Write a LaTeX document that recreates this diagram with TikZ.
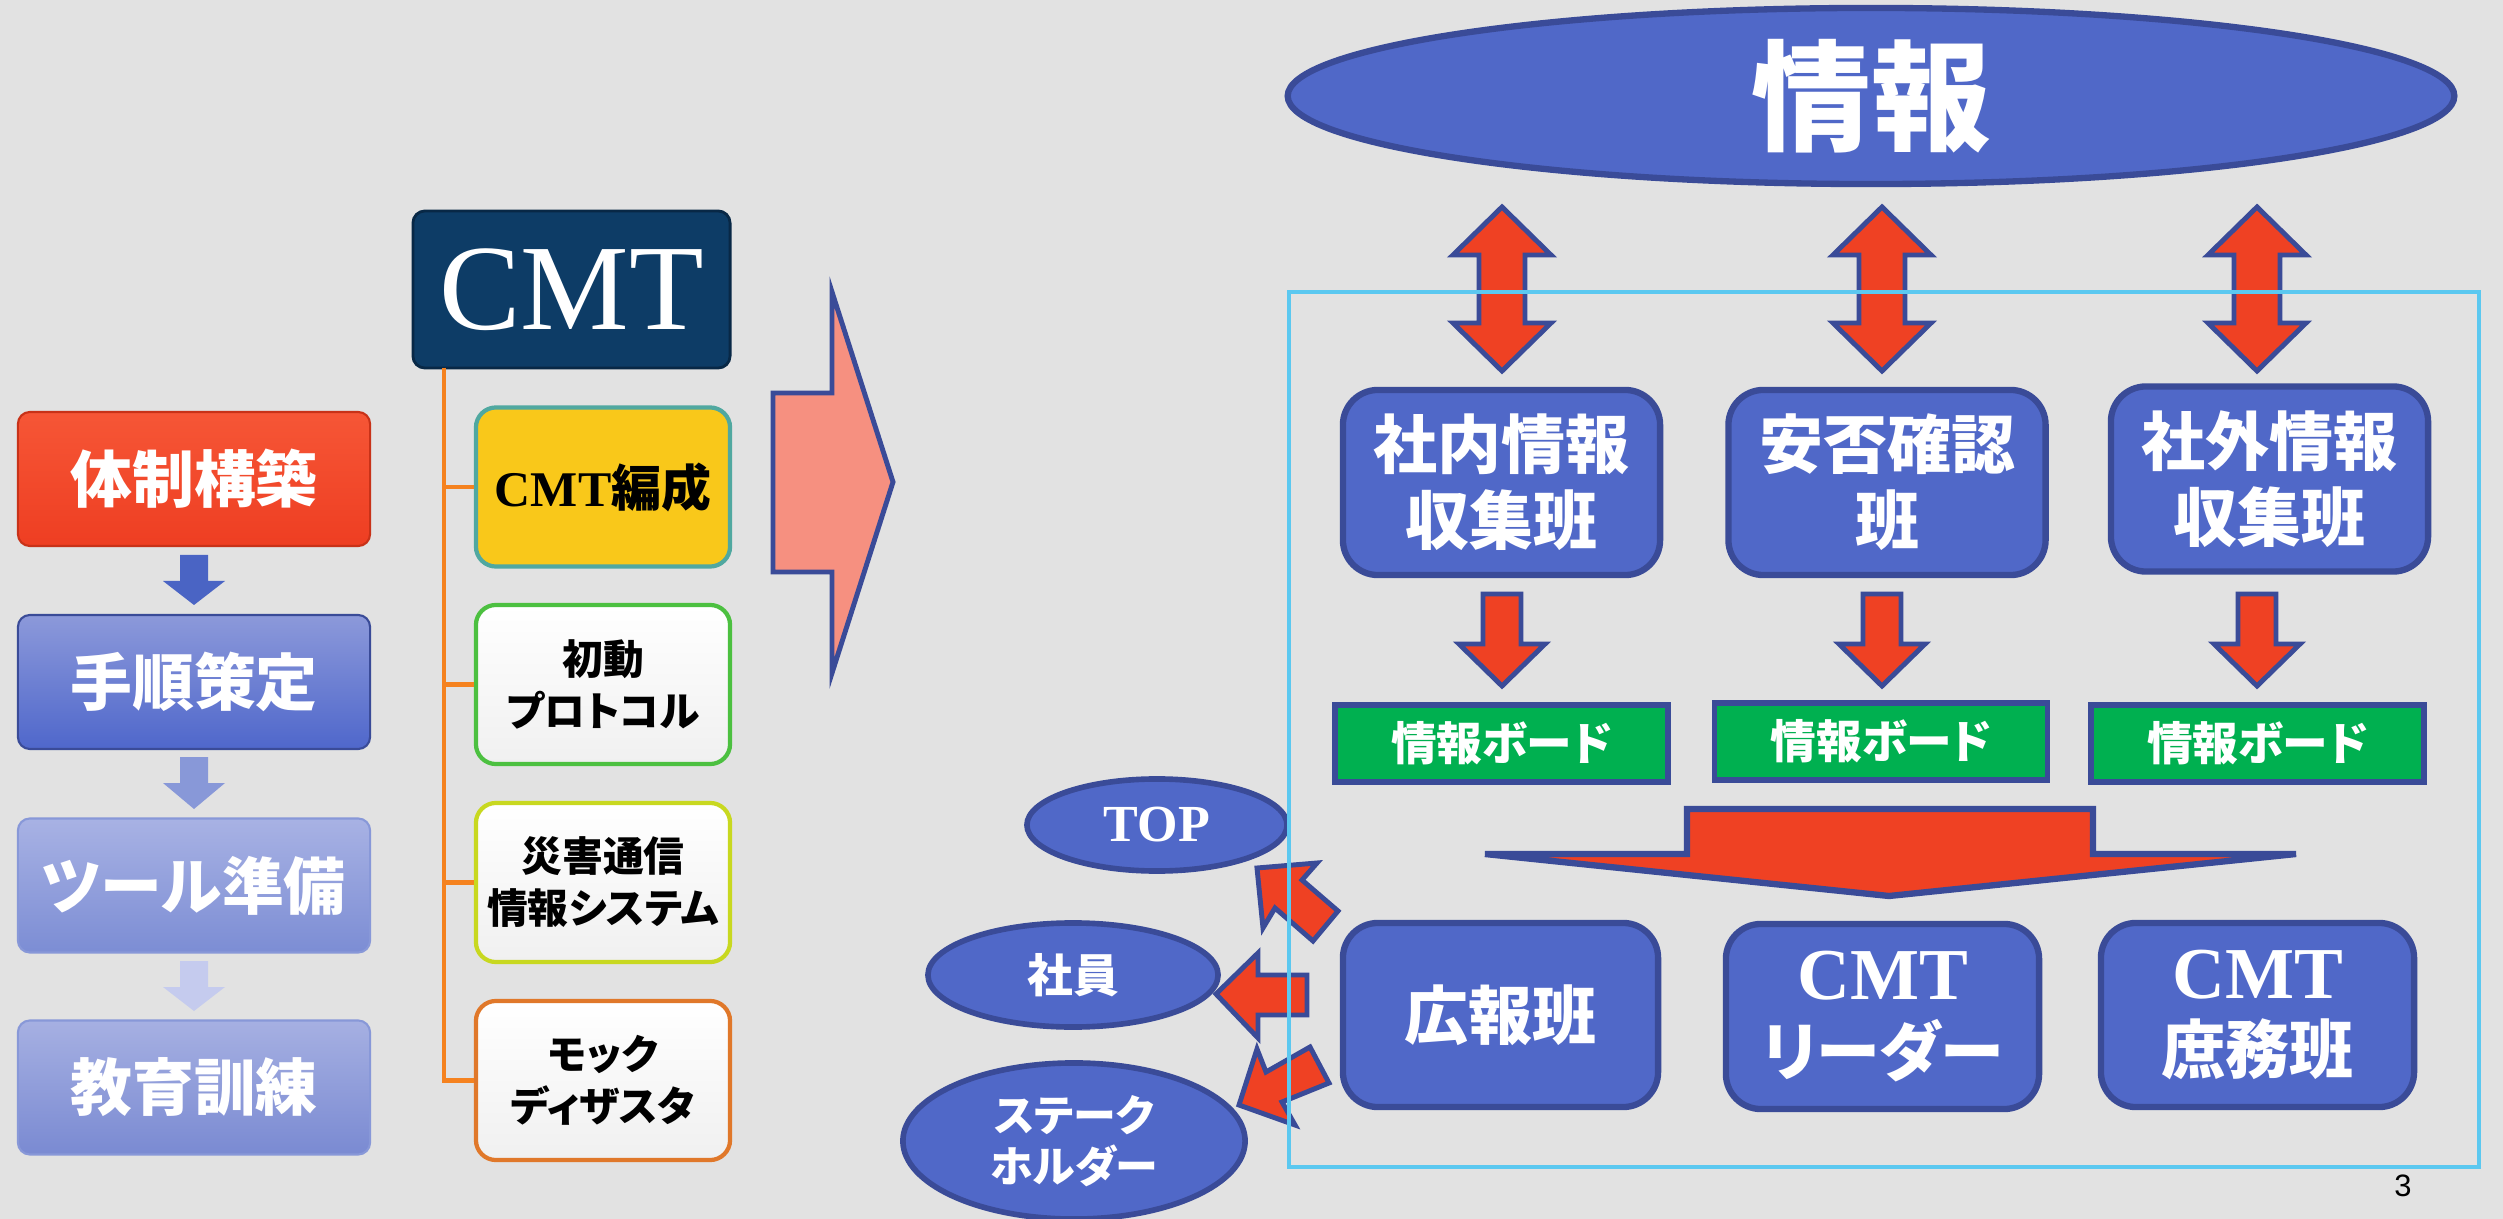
\documentclass[tikz,border=0pt]{standalone}
\usepackage{fontspec}
\newfontfamily\cjk[RawFeature=+palt]{Noto Sans CJK JP}
\newfontfamily\lser{Liberation Serif}
\newfontfamily\lsans{Liberation Sans}
\usetikzlibrary{shapes.geometric}
\definecolor{bg}{HTML}{E2E2E2}
\definecolor{bblue}{HTML}{5068C8}
\definecolor{bedge}{HTML}{3A4B98}
\definecolor{rred}{HTML}{EF4123}
\definecolor{ggreen}{HTML}{00B050}
\definecolor{ccyan}{HTML}{5BC8F0}
\definecolor{navy}{HTML}{0D3C66}
\definecolor{navyedge}{HTML}{082846}
\definecolor{oorange}{HTML}{F5821F}
\definecolor{yyellow}{HTML}{F9C81A}
\definecolor{salmon}{HTML}{F69080}
\definecolor{redtop}{HTML}{F65636}
\definecolor{redbot}{HTML}{EE3E22}
\definecolor{redge}{HTML}{C83218}
\definecolor{b1top}{HTML}{8C99DA}
\definecolor{b1bot}{HTML}{4F67CB}
\definecolor{b2top}{HTML}{A8B2E4}
\definecolor{b2bot}{HTML}{7C8DD4}
\definecolor{b3top}{HTML}{A6B0E2}
\definecolor{b3bot}{HTML}{7A8AD2}
\definecolor{ar1}{HTML}{4A64C4}
\definecolor{ar2}{HTML}{8898D8}
\definecolor{ar3}{HTML}{C5CBEE}
\definecolor{edteal}{HTML}{50A8A0}
\definecolor{edgreen}{HTML}{4CC040}
\definecolor{edyel}{HTML}{C8D820}
\definecolor{edor}{HTML}{E0782A}
\definecolor{lgray}{HTML}{F0F0F0}
\newcommand\myfs[2]{\fontsize{#1}{#2}\selectfont}
\tikzset{
  lbox/.style={rectangle, rounded corners=0.12cm, minimum width=3.52cm, minimum height=1.34cm, inner sep=0pt, draw=#1, line width=0.6pt, text=white, font={\cjk\bfseries\myfs{17.6pt}{20pt}}},
  cbox/.style={rectangle, rounded corners=0.2cm, minimum width=2.54cm, minimum height=1.59cm, inner sep=0pt, draw=#1, line width=1.2pt, align=center, font={\cjk\bfseries\myfs{11.6pt}{14.8pt}}},
  gbox/.style={rectangle, rounded corners=0.35cm, minimum width=3.17cm, minimum height=1.85cm, inner sep=0pt, fill=bblue, draw=bedge, line width=1.8pt, text=white, align=center, font={\cjk\bfseries\myfs{18.2pt}{21.6pt}}},
  board/.style={rectangle, minimum width=3.33cm, minimum height=0.77cm, inner sep=0pt, fill=ggreen, draw=bedge, line width=1.6pt, text=white, font={\cjk\bfseries\myfs{13pt}{13pt}}},
  oval/.style={ellipse, inner sep=0pt, fill=bblue, draw=bedge, line width=1.6pt, text=white, align=center},
  blk/.style={fill=rred, draw=bedge, line width=1.4pt, line join=miter},
  tree/.style={draw=oorange, line width=1.4pt},
}
\begin{document}
\begin{tikzpicture}[x=0.01cm,y=-0.01cm]
\useasboundingbox (0,0) rectangle (2503,1219);
\fill[bg] (0,0) rectangle (2503,1219);

% ---------------- left column ----------------
\node[lbox=redge, top color=redtop, bottom color=redbot] (taisei) at (194,479) {体制構築};
\node[lbox=bedge, top color=b1top, bottom color=b1bot] (tejun) at (194,682) {手順策定};
\node[lbox=ar2, top color=b2top, bottom color=b2bot] (tool) at (194,885.5) {ツール準備};
\node[lbox=ar2, top color=b3top, bottom color=b3bot] (kyoiku) at (194,1087.5) {教育訓練};

\fill[ar1] (180,555) -- (208,555) -- (208,581) -- (225,581) -- (194,605) -- (163,581) -- (180,581) -- cycle;
\fill[ar2] (180,757) -- (208,757) -- (208,783) -- (225,783) -- (194,809) -- (163,783) -- (180,783) -- cycle;
\fill[ar3] (180,961) -- (208,961) -- (208,987) -- (225,987) -- (194,1011) -- (163,987) -- (180,987) -- cycle;

% ---------------- CMT tree ----------------
\node[rectangle, rounded corners=0.12cm, minimum width=3.17cm, minimum height=1.57cm, inner sep=0pt, fill=navy, draw=navyedge, line width=0.8pt, text=white, font={\lser\myfs{34.7pt}{36pt}}] (cmt) at (571.5,289.5) {CMT};
\coordinate (trunk) at (444,368);
\node[cbox=edteal, fill=yyellow, font={\bfseries\myfs{14.2pt}{15pt}}] (hensei) at (603,487) {{\lser\bfseries CMT}{\cjk\bfseries 編成}};
\node[cbox=edgreen, top color=white, bottom color=lgray] (shodo) at (603,684.5) {初動\\プロトコル};
\node[cbox=edyel, top color=white, bottom color=lgray] (saigai) at (603,882.5) {災害通信\\情報システム};
\node[cbox=edor, top color=white, bottom color=lgray] (mock) at (603,1080.5) {モック\\ディザスタ};
\draw[tree] (trunk) |- (hensei.west);
\draw[tree] (trunk) |- (shodo.west);
\draw[tree] (trunk) |- (saigai.west);
\draw[tree] (trunk) |- (mock.west);

% ---------------- big salmon arrow ----------------
\draw[fill=salmon, draw=bedge, line width=1.4pt] (773,393) -- (832,393) -- (832,292) -- (893,482) -- (832,673) -- (832,572) -- (773,572) -- cycle;

% ---------------- right side ----------------
\node[oval, minimum width=11.66cm, minimum height=1.76cm, line width=1.8pt, font={\cjk\bfseries\myfs{34pt}{36pt}}] (joho) at (1871,96) {情報};

\foreach \x in {1502,1882,2257}{
  \draw[blk] (\x,207) -- (\x+49,255) -- (\x+23,255) -- (\x+23,323) -- (\x+49,323) -- (\x,371) -- (\x-49,323) -- (\x-23,323) -- (\x-23,255) -- (\x-49,255) -- cycle;
  \draw[blk] (\x-19,594) -- (\x+19,594) -- (\x+19,644) -- (\x+43,644) -- (\x,686) -- (\x-43,644) -- (\x-19,644) -- cycle;
}

\node[gbox] (shanai) at (1501.5,482.5) {社内情報\\収集班};
\node[gbox] (anpi) at (1887,482.5) {安否確認\\班};
\node[gbox] (shagai) at (2269.5,479) {社外情報\\収集班};

\node[board] (b1) at (1501.5,743.5) {情報ボード};
\node[board] (b2) at (1881,741.5) {情報ボード};
\node[board] (b3) at (2257.5,743.5) {情報ボード};

\draw[blk, line width=1.8pt] (1687,809) -- (2093,809) -- (2093,854) -- (2296,854) -- (1889,896) -- (1485,854) -- (1687,854) -- cycle;

\node[gbox, minimum width=3.15cm, minimum height=1.84cm] (koho) at (1500.5,1015) {広報班};
\node[gbox, minimum width=3.13cm, minimum height=1.85cm] (leader) at (1882.5,1016.5) {{\lser\bfseries\myfs{20.8pt}{21.6pt}CMT}\\リーダー};
\node[gbox, minimum width=3.13cm, minimum height=1.84cm] (shomu) at (2257.5,1015) {{\lser\bfseries\myfs{20.8pt}{21.6pt}CMT}\\庶務班};

\node[oval, minimum width=2.6cm, minimum height=0.92cm, font={\lser\bfseries\myfs{14.8pt}{15pt}}] (top) at (1157,825) {TOP};
\node[oval, minimum width=2.9cm, minimum height=1.04cm, font={\cjk\bfseries\myfs{13pt}{14pt}}] (shain) at (1073,975) {社員};
\node[oval, minimum width=3.42cm, minimum height=1.56cm, font={\cjk\bfseries\myfs{12.2pt}{14.5pt}}] (stake) at (1074,1141) {ステーク\\ホルダー};

\draw[blk] (1257,868) -- (1317,863) -- (1302,880) -- (1338,911) -- (1313,941) -- (1275,908) -- (1263,928) -- cycle;
\draw[blk] (1216,994) -- (1258,953) -- (1258,975) -- (1307,975) -- (1307,1015) -- (1258,1015) -- (1258,1038) -- cycle;
\draw[blk] (1239,1105) -- (1257,1049) -- (1266,1072) -- (1310,1047) -- (1329,1083) -- (1282,1102) -- (1295,1125) -- cycle;

\draw[ccyan, line width=1.2pt] (1289,292) rectangle (2479,1167);

\node[font={\lsans\myfs{8.8pt}{9pt}}, inner sep=0pt] (pnum) at (2403,1186) {3};
\end{tikzpicture}
\end{document}
